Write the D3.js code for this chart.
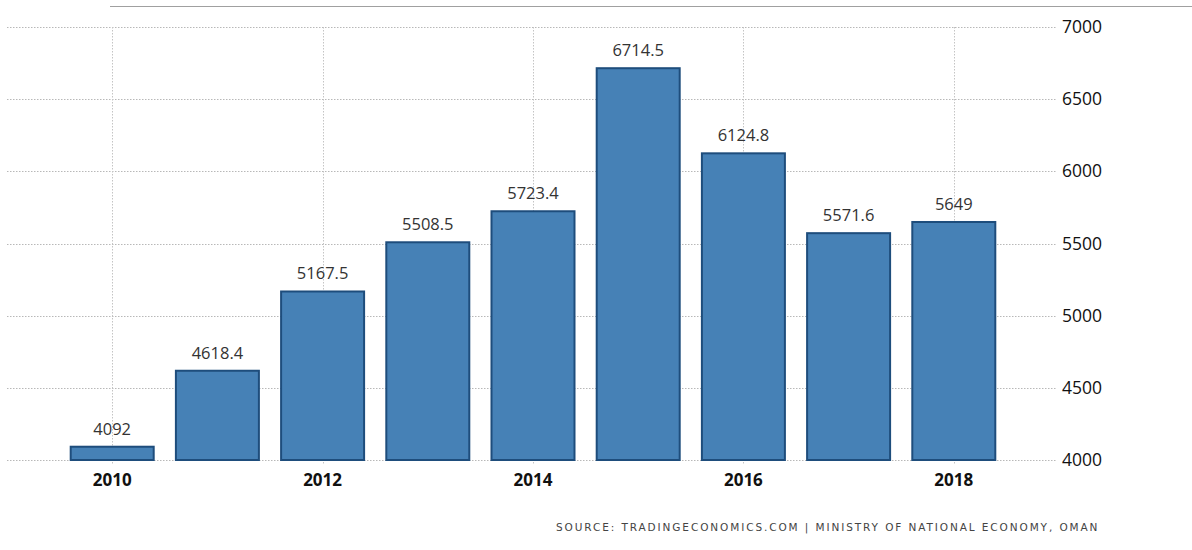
<!DOCTYPE html>
<html>
<head>
<meta charset="utf-8">
<script src="https://cdn.jsdelivr.net/npm/d3@7"></script>
<style>
  html, body { margin: 0; padding: 0; background: #fff; }
  svg { display: block; }
</style>
</head>
<body>
<svg id="chart" width="1192" height="550"></svg>
<script>
// Yearly values
const years = [2010, 2011, 2012, 2013, 2014, 2015, 2016, 2017, 2018];
const values = [4092, 4618.4, 5167.5, 5508.5, 5723.4, 6714.5, 6124.8, 5571.6, 5649];
const valueLabels = ["4092", "4618.4", "5167.5", "5508.5", "5723.4", "6714.5", "6124.8", "5571.6", "5649"];
const yTicks = [4000, 4500, 5000, 5500, 6000, 6500, 7000];
const xTicks = [2010, 2012, 2014, 2016, 2018];
const sourceText = "SOURCE: TRADINGECONOMICS.COM | MINISTRY OF NATIONAL ECONOMY, OMAN";

(function () {
  const svg = d3.select("#chart");
  const W = 1192;
  const plotLeft = 7, plotRight = 1059, plotTop = 27, plotBottom = 460;

  const x = d3.scaleLinear().domain([2009, 2019]).range([plotLeft, plotRight]);
  const y = d3.scaleLinear().domain([4000, 7000]).range([plotBottom, plotTop]);
  const barW = 83;

  // top rule
  svg.append("line")
    .attr("x1", 110).attr("x2", W).attr("y1", 6.5).attr("y2", 6.5)
    .attr("stroke", "#a0a0a0").attr("stroke-width", 1.2);

  // horizontal gridlines
  svg.append("g").selectAll("line").data(yTicks).join("line")
    .attr("x1", plotLeft).attr("x2", plotRight - 2)
    .attr("y1", d => Math.round(y(d)) + 0.5).attr("y2", d => Math.round(y(d)) + 0.5)
    .attr("stroke", "#b8b8b8").attr("stroke-width", 1).attr("stroke-dasharray", "1.5,1.5");

  // vertical gridlines
  svg.append("g").selectAll("line").data(xTicks).join("line")
    .attr("x1", d => Math.round(x(d)) + 0.5).attr("x2", d => Math.round(x(d)) + 0.5)
    .attr("y1", plotTop).attr("y2", plotBottom + 4)
    .attr("stroke", "#c4c4c4").attr("stroke-width", 1).attr("stroke-dasharray", "1.5,1.5");

  // bars
  svg.append("g").selectAll("rect").data(years).join("rect")
    .attr("x", d => x(d) - barW / 2)
    .attr("width", barW)
    .attr("y", (d, i) => y(values[i]))
    .attr("height", (d, i) => y(4000) - y(values[i]))
    .attr("fill", "#4681b6")
    .attr("stroke", "#1e4d7c")
    .attr("stroke-width", 2);

  // value labels
  svg.append("g").selectAll("text").data(years).join("text")
    .attr("x", d => x(d))
    .attr("y", (d, i) => y(values[i]) - 12)
    .attr("text-anchor", "middle")
    .attr("font-family", "'Open Sans', 'Noto Sans', sans-serif")
    .attr("font-size", 16.5)
    .attr("fill", "#333")
    .text((d, i) => valueLabels[i]);

  // x axis labels
  svg.append("g").selectAll("text").data(xTicks).join("text")
    .attr("x", d => x(d))
    .attr("y", 486)
    .attr("text-anchor", "middle")
    .attr("font-family", "'Open Sans', 'Noto Sans', sans-serif")
    .attr("font-size", 17)
    .attr("font-weight", "bold")
    .attr("fill", "#111")
    .text(d => d);

  // y axis labels
  svg.append("g").selectAll("text").data(yTicks).join("text")
    .attr("x", 1062)
    .attr("y", d => y(d) + 6)
    .attr("text-anchor", "start")
    .attr("font-family", "'Open Sans', 'Noto Sans', sans-serif")
    .attr("font-size", 17.5)
    .attr("fill", "#111")
    .text(d => d);

  // source note
  svg.append("text")
    .attr("x", 556).attr("y", 531)
    .attr("text-anchor", "start")
    .attr("font-family", "'DejaVu Sans', sans-serif")
    .attr("font-size", 10.5)
    .attr("letter-spacing", 1.9)
    .attr("fill", "#444")
    .text(sourceText);
})();
</script>
</body>
</html>
